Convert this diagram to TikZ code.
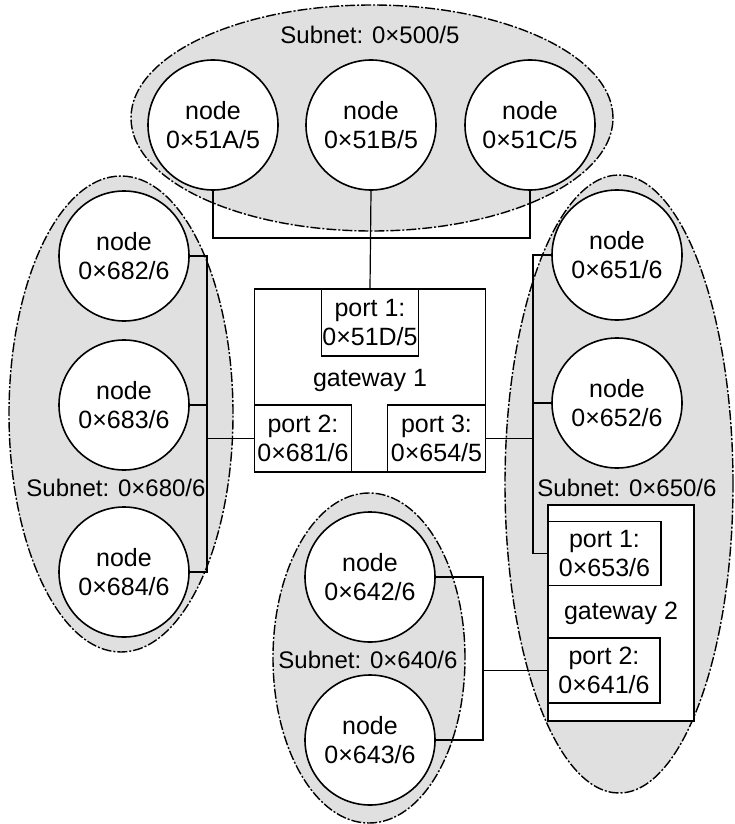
\documentclass[tikz,border=0pt]{standalone}
\usepackage{fontspec}
\setmainfont{Liberation Sans}
\usepackage{tikz}
\usetikzlibrary{shapes.geometric,calc}
\definecolor{SubnetGray}{RGB}{224,224,224}
\tikzset{
  subnet/.style={ellipse,draw,fill=SubnetGray,line width=1.4pt,dash pattern=on 10pt off 2pt on 2pt off 2pt,inner sep=0pt},
  netlabel/.style={font=\fontsize{24}{29}\selectfont},
  host/.style={circle,draw,fill=white,line width=1.6pt,minimum size=130pt,inner sep=0pt,align=center},
  gwbox/.style={rectangle,draw,fill=white,line width=1.5pt,inner sep=0pt},
  portbox/.style={rectangle,draw,fill=white,line width=1.5pt,inner sep=0pt,align=center},
  wire/.style={line width=1.2pt}
}

\begin{document}
\begin{tikzpicture}[x=1pt,y=-1pt,font=\fontsize{25}{29}\selectfont]
  \useasboundingbox (0,0) rectangle (734,824);
  % subnets
  \node[subnet,minimum width=482pt,minimum height=226pt] (s500) at (372,118) {};
  \node[subnet,minimum width=224pt,minimum height=476pt] (s680) at (121,414) {};
  \node[subnet,minimum width=228pt,minimum height=618pt] (s650) at (619,484) {};
  \node[subnet,minimum width=192pt,minimum height=330pt] (s640) at (369,658) {};
  \node[netlabel] (l500) at (370,35) {Subnet: 0×500/5};
  \node[netlabel] (l680) at (116,488) {Subnet: 0×680/6};
  \node[netlabel] (l650) at (627,488) {Subnet: 0×650/6};
  \node[netlabel] (l640) at (368,660) {Subnet: 0×640/6};
  % hosts
  \foreach \n/\x in {51A/213,51B/371,51C/530}
    \node[host] (n\n) at (\x,125) {node\\0×\n/5};
  \foreach \n/\y in {682/256,683/405,684/572}
    \node[host] (n\n) at (124,\y) {node\\0×\n/6};
  \foreach \n/\y in {651/255,652/403}
    \node[host] (n\n) at (617,\y) {node\\0×\n/6};
  \foreach \n/\y in {642/577,643/740}
    \node[host] (n\n) at (370,\y) {node\\0×\n/6};
  % gateways and ports
  \node[gwbox,minimum width=231pt,minimum height=183pt] (gw1) at (370,380.5) {gateway 1};
  \node[portbox,minimum width=97pt,minimum height=67pt,anchor=north] (g1p1) at (gw1.north) {port 1:\\0×51D/5};
  \node[portbox,minimum width=97pt,minimum height=67pt,anchor=south west] (g1p2) at (gw1.south west) {port 2:\\0×681/6};
  \node[portbox,minimum width=98pt,minimum height=67pt,anchor=south east] (g1p3) at (gw1.south east) {port 3:\\0×654/5};
  \node[gwbox,minimum width=146pt,minimum height=216pt] (gw2) at (621,613) {gateway 2};
  \node[portbox,minimum width=113pt,minimum height=64pt,anchor=west] (g2p1) at (gw2.west |- 0,553.5) {port 1:\\0×653/6};
  \node[portbox,minimum width=112pt,minimum height=65pt,anchor=west] (g2p2) at (gw2.west |- 0,670.5) {port 2:\\0×641/6};
  % buses
  \coordinate (busT) at (0,238);
  \coordinate (busL) at (207,0);
  \coordinate (busR) at (533,0);
  \coordinate (busB) at (483,0);
  \draw[wire] (n51A.south) -- (n51A.south |- busT) -| (n51C.south);
  \draw[wire] (n51B.south) -- (g1p1.north);
  \draw[wire] (n682.east) -- (n682.east -| busL) -- (n684.east -| busL) -- (n684.east);
  \draw[wire] (n683.east) -- (n683.east -| busL);
  \draw[wire] (g1p2.west) -- (g1p2.west -| busL);
  \draw[wire] (n651.west) -- (n651.west -| busR) -- (g2p1.west -| busR) -- (g2p1.west);
  \draw[wire] (n652.west) -- (n652.west -| busR);
  \draw[wire] (g1p3.east) -- (g1p3.east -| busR);
  \draw[wire] (n642.east) -- (n642.east -| busB) -- (n643.east -| busB) -- (n643.east);
  \draw[wire] (g2p2.west) -- (g2p2.west -| busB);
\end{tikzpicture}
\end{document}
